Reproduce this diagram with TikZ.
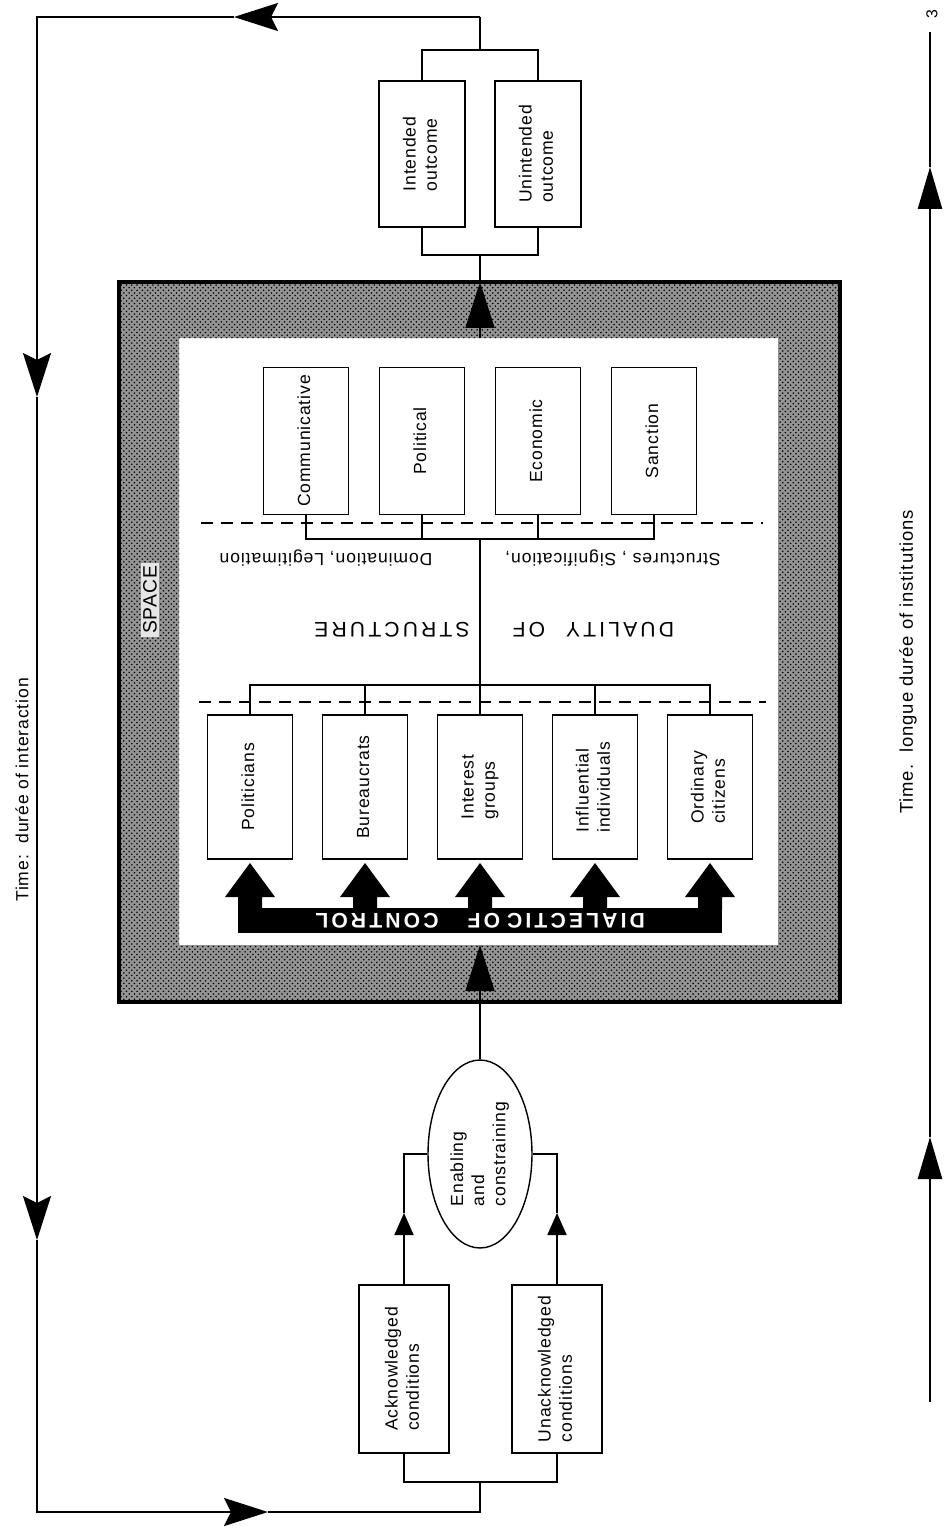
\documentclass[tikz,border=0pt]{standalone}
\usepackage{fontspec}
\setmainfont{Liberation Sans}[LetterSpace=5]
\usepackage{graphicx}
\usetikzlibrary{arrows.meta,shapes.geometric,patterns}

\newcommand{\vtext}[1]{\rotatebox{90}{\begin{tabular}{@{}l@{}}#1\end{tabular}}}

\begin{document}
\begin{tikzpicture}[x=0.02cm,y=-0.02cm,
  every node/.style={font=\fontsize{10}{12}\selectfont},
  box/.style={draw,line width=0.8pt,fill=white,inner sep=0pt,minimum width=1.7cm,minimum height=2.92cm},
  loopline/.style={line width=1.4pt},
  wire/.style={line width=1pt},
  hatchline/.style={line width=0.8pt,dash pattern=on 0.24cm off 0.16cm},
  bigtxt/.style={rotate=180,font=\fontsize{12}{14}\selectfont\addfontfeature{LetterSpace=15}},
  bandtxt/.style={rotate=180,text=white,font=\fontsize{12}{14}\selectfont\bfseries\addfontfeature{LetterSpace=15}},
  bigtip/.style={-{Stealth[length=0.88cm,width=0.56cm,inset=0.14cm]}},
  sidetip/.style={-{Triangle[length=0.84cm,width=0.48cm]}},
  frametip/.style={-{Triangle[length=0.92cm,width=0.58cm]}},
  smalltip/.style={-{Triangle[length=0.44cm,width=0.38cm]}}]
\useasboundingbox (0,0) rectangle (944,1529);

\fill[black!42,even odd rule] (119,282) rectangle (840,1002) (179,338) rectangle (778,945);
\fill[pattern=crosshatch dots,pattern color=black,even odd rule] (119,282) rectangle (840,1002) (179,338) rectangle (778,945);
\draw[line width=2.4pt] (119,282) rectangle (840,1002);
\node[fill=gray!20,inner sep=1.5pt,font=\fontsize{11}{13}\selectfont] (space) at (150,600) {\rotatebox{90}{SPACE}};

\draw[hatchline] (201,523) -- (763,523);
\draw[hatchline] (199,702) -- (766,702);

\node[box,minimum width=1.72cm] (intended) at (422,154) {\vtext{Intended\\outcome}};
\node[box,minimum width=1.72cm] (unintended) at (538,154) {\vtext{Unintended\\outcome}};

\foreach \nm/\x/\txt in {comm/306/Communicative,pol/422/Political,econ/538/Economic,sanc/654/Sanction}
  \node[box,minimum height=2.94cm] (\nm) at (\x,441) {\vtext{\txt}};
\foreach \nm/\x/\txt in {politic/250/Politicians,bureau/365/Bureaucrats,interest/480/{Interest\\groups},influ/595/{Influential\\individuals},ordin/710/{Ordinary\\citizens}}
  \node[box,minimum height=2.88cm] (\nm) at (\x,787) {\vtext{\txt}};

\node[draw,ellipse,line width=0.8pt,inner sep=0pt,minimum width=2.08cm,minimum height=3.76cm] (enable) at (480,1154) {\vtext{Enabling\\and\\constraining}};
\node[box,minimum width=1.8cm,minimum height=3.36cm] (ack) at (404,1369) {\vtext{Acknowledged\\conditions}};
\node[box,minimum width=1.8cm,minimum height=3.36cm] (unack) at (557,1369) {\vtext{Unacknowledged\\conditions}};

\coordinate (ubr) at (480,539);
\coordinate (lbr) at (480,685);
\draw[wire] (comm.south) |- (sanc.south |- ubr) -- (sanc.south);
\draw[wire] (pol.south) -- (pol.south |- ubr);
\draw[wire] (econ.south) -- (econ.south |- ubr);
\draw[wire] (ubr) -- (lbr);
\draw[wire] (politic.north) |- (ordin.north |- lbr) -- (ordin.north);
\draw[wire] (bureau.north) -- (bureau.north |- lbr);
\draw[wire] (interest.north) -- (interest.north |- lbr);
\draw[wire] (influ.north) -- (influ.north |- lbr);

\node[bigtxt] (duality) at (620,630) {DUALITY};
\node[bigtxt] (of) at (529,630) {OF};
\node[bigtxt] (structure) at (392,630) {STRUCTURE};
\node[rotate=180] (signif) at (613,558) {Structures , Signification,};
\node[rotate=180] (domin) at (326,558) {Domination, Legitimation};

\fill (238,908) rectangle (722,933);
\foreach \x in {250,365,480,595,710}
  \fill (\x-12,910) -- (\x-12,897) -- (\x-25,897) -- (\x,863) -- (\x+25,897) -- (\x+12,897) -- (\x+12,910) -- cycle;
\node[bandtxt] (dialectic) at (576,921) {DIALECTIC};
\node[bandtxt] (ofb) at (484,921) {OF};
\node[bandtxt] (control) at (377,921) {CONTROL};

\coordinate (obt) at (480,50);
\coordinate (obb) at (480,255);
\coordinate (ftop) at (480,282);
\coordinate (itop) at (480,338);
\coordinate (ibot) at (480,945);
\draw[wire] (intended.north) |- (obt) -| (unintended.north);
\draw[wire] (intended.south) |- (obb) -| (unintended.south);
\draw[wire,frametip] (itop) -- (ftop);
\draw[wire] (ftop) -- (obb);
\draw[wire,frametip] (enable.north) -- (ibot);

\coordinate (aarr) at (ack.north |- 0,1213);
\coordinate (uarr) at (unack.north |- 0,1213);
\draw[wire,smalltip] (ack.north) -- (aarr);
\draw[wire] (aarr) |- (enable.west);
\draw[wire,smalltip] (unack.north) -- (uarr);
\draw[wire] (uarr) |- (enable.east);

\coordinate (otop) at (480,17);
\coordinate (tarr) at (234,17);
\coordinate (tl) at (37,17);
\coordinate (larr1) at (37,397);
\coordinate (larr2) at (37,1240);
\coordinate (bl) at (37,1512);
\coordinate (barr) at (268,1512);
\coordinate (cbot) at (480,1512);
\coordinate (cbr) at (480,1482);
\draw[loopline] (obt) -- (otop);
\draw[loopline,bigtip] (otop) -- (tarr);
\draw[loopline,bigtip] (tarr) -- (tl) -- (larr1);
\draw[loopline,bigtip] (larr1) -- (larr2);
\draw[loopline,bigtip] (larr2) -- (bl) -- (barr);
\draw[loopline] (barr) -- (cbot) -- (cbr);
\draw[wire] (ack.south) |- (cbr) -| (unack.south);

\coordinate (rtop) at (930,32);
\coordinate (rarr2) at (930,167);
\coordinate (rarr1) at (930,1137);
\coordinate (rbot) at (930,1402);
\draw[loopline,sidetip] (rbot) -- (rarr1);
\draw[loopline,sidetip] (rarr1) -- (rarr2);
\draw[loopline] (rarr2) -- (rtop);

\node (tint) at (22,790) {\rotatebox{90}{Time:\ \ durée of interaction}};
\node[font=\fontsize{10.5}{12}\selectfont] (tinst) at (908,662) {\rotatebox{90}{Time.\ \ longue durée of institutions}};
\node[font=\fontsize{9}{10}\selectfont] (pageno) at (932,14) {\rotatebox{90}{3}};
\end{tikzpicture}
\end{document}
